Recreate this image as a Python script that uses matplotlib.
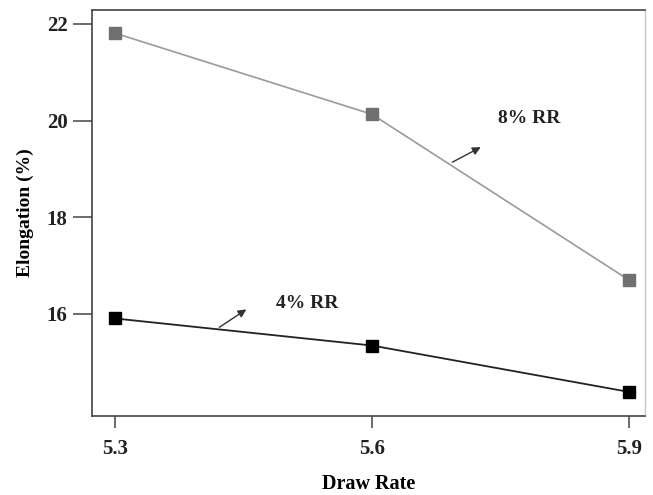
import matplotlib
matplotlib.use("Agg")
import matplotlib.pyplot as plt

# Elongation vs. draw rate for two reduction ratios
draw_rate = [5.3, 5.6, 5.9]
elong_8rr = [21.81, 20.13, 16.70]
elong_4rr = [15.90, 15.34, 14.38]

x_ticks = [5.3, 5.6, 5.9]
y_ticks = [16, 18, 20, 22]

plt.rcParams['font.family'] = ['Liberation Serif', 'DejaVu Serif']

fig = plt.figure(figsize=(6.53, 4.95), dpi=100)
ax = fig.add_axes([0.1409, 0.1596, 0.8468, 0.8202])

ax.plot(draw_rate, elong_8rr, color='#9a9a9a', lw=1.2, marker='s',
        markersize=8, markerfacecolor='#707070', markeredgecolor='#707070', zorder=3)
ax.plot(draw_rate, elong_4rr, color='#222222', lw=1.3, marker='s',
        markersize=8.5, markerfacecolor='black', markeredgecolor='black', zorder=3)

ax.set_xlim(5.273, 5.919)
ax.set_ylim(13.88, 22.29)
ax.set_xticks(x_ticks)
ax.set_xticklabels([f"{v:.1f}" for v in x_ticks])
ax.set_yticks(y_ticks)

for side in ['left', 'bottom', 'top']:
    ax.spines[side].set_color('#444444')
    ax.spines[side].set_linewidth(1.2)
ax.spines['right'].set_color('#c8c8c8')
ax.spines['right'].set_linewidth(1.0)

ax.tick_params(axis='x', direction='out', length=8.5, width=1.1, color='#444444',
               pad=8, labelsize=15)
ax.tick_params(axis='y', direction='out', length=13.5, width=1.1, color='#444444',
               pad=4, labelsize=15)
for lbl in ax.get_xticklabels() + ax.get_yticklabels():
    lbl.set_fontweight('bold')
    lbl.set_color('#222222')

ax.set_xlabel('Draw Rate', fontsize=14.5, fontweight='bold', labelpad=11)
ax.set_ylabel('Elongation (%)', fontsize=14, fontweight='bold', labelpad=9)

arrow_style = dict(arrowstyle='-|>', color='#333333', lw=1.0, mutation_scale=12)
ax.annotate('', xy=(5.730, 19.475), xytext=(5.691, 19.11), arrowprops=arrow_style)
ax.text(5.784, 20.05, '8% RR', fontsize=14, fontweight='bold', ha='center',
        va='center', color='#222222')
ax.annotate('', xy=(5.456, 16.12), xytext=(5.419, 15.685), arrowprops=arrow_style)
ax.text(5.524, 16.21, '4% RR', fontsize=14, fontweight='bold', ha='center',
        va='center', color='#222222')

fig.savefig('out.png', dpi=100)
